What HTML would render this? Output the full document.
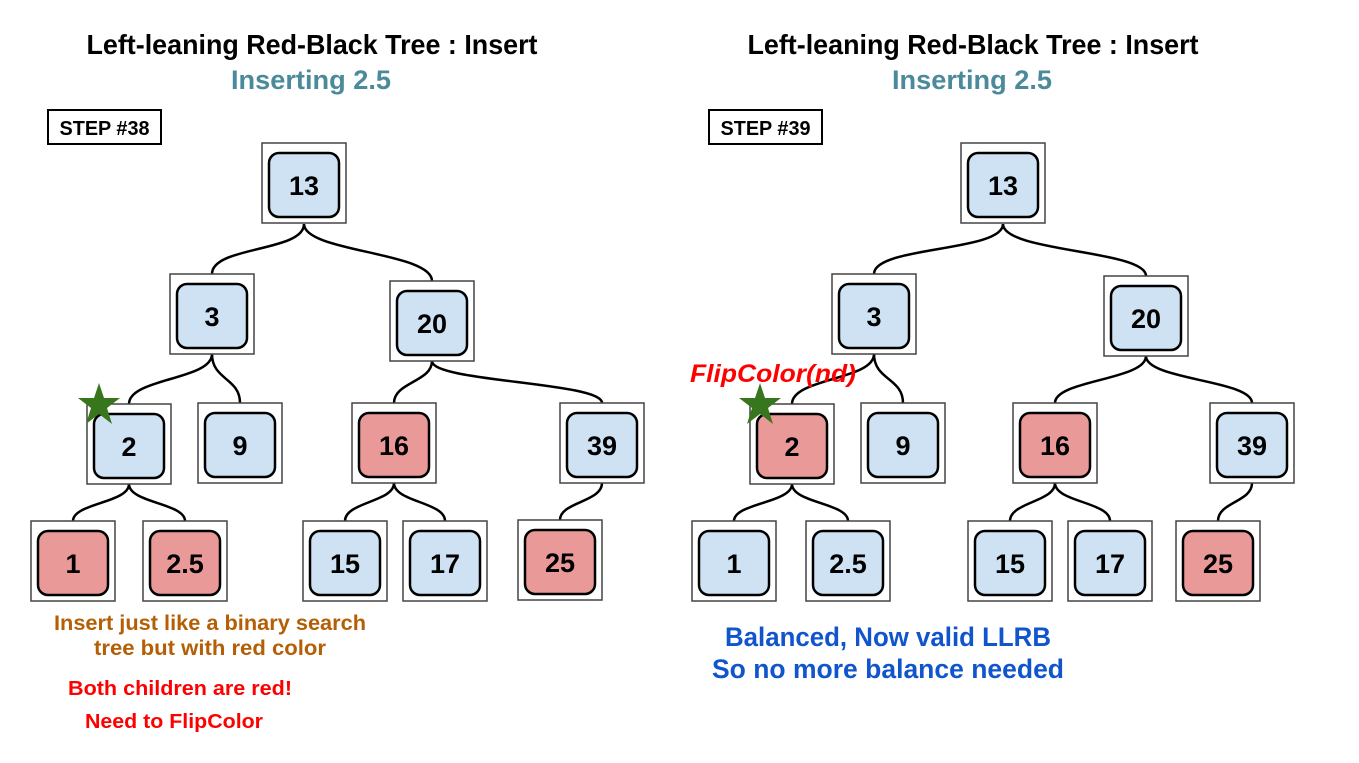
<!DOCTYPE html>
<html><head><meta charset="utf-8"><style>
html,body{margin:0;padding:0;background:#fff;}
svg{display:block;font-family:"Liberation Sans",sans-serif;font-weight:bold;}
</style></head><body>
<svg width="1359" height="763" viewBox="0 0 1359 763" xmlns="http://www.w3.org/2000/svg">
<g text-anchor="middle">
<text x="312" y="54" font-size="28" textLength="451" lengthAdjust="spacingAndGlyphs">Left-leaning Red-Black Tree : Insert</text>
<text x="311" y="89" font-size="27" fill="#4a8a9a" textLength="160" lengthAdjust="spacingAndGlyphs">Inserting 2.5</text>
<text x="973" y="54" font-size="28" textLength="451" lengthAdjust="spacingAndGlyphs">Left-leaning Red-Black Tree : Insert</text>
<text x="972" y="89" font-size="27" fill="#4a8a9a" textLength="160" lengthAdjust="spacingAndGlyphs">Inserting 2.5</text>
</g>
<rect x="48" y="110" width="113" height="34" fill="#fff" stroke="#000" stroke-width="2"/>
<text x="104.5" y="135" font-size="20" text-anchor="middle" textLength="90" lengthAdjust="spacingAndGlyphs">STEP #38</text>
<rect x="709" y="110" width="113" height="34" fill="#fff" stroke="#000" stroke-width="2"/>
<text x="765.5" y="135" font-size="20" text-anchor="middle" textLength="90" lengthAdjust="spacingAndGlyphs">STEP #39</text>

<g fill="none" stroke="#000" stroke-width="2.5">
<path d="M304,224 C304,252 212,246 212,274"/>
<path d="M304,224 C304,252 432,252 432,281"/>
<path d="M212,354 C212,380 129,378 129,404"/>
<path d="M212,354 C212,380 240,378 240,403"/>
<path d="M432,361 C432,382 394,382 394,403"/>
<path d="M432,361 C432,382 602,382 602,403"/>
<path d="M129,484 C129,503 73,503 73,521"/>
<path d="M129,484 C129,503 185,503 185,521"/>
<path d="M394,483 C394,502 345,502 345,521"/>
<path d="M394,483 C394,502 445,502 445,521"/>
<path d="M602,483 C602,502 560,502 560,520"/>
<path d="M1003,224 C1003,252 874,246 874,274"/>
<path d="M1003,224 C1003,252 1146,250 1146,276"/>
<path d="M874,354 C874,380 792,378 792,404"/>
<path d="M874,354 C874,380 903,378 903,403"/>
<path d="M1146,356 C1146,380 1055,380 1055,403"/>
<path d="M1146,356 C1146,380 1252,380 1252,403"/>
<path d="M792,484 C792,503 734,503 734,521"/>
<path d="M792,484 C792,503 848,503 848,521"/>
<path d="M1055,483 C1055,502 1010,502 1010,521"/>
<path d="M1055,483 C1055,502 1110,502 1110,521"/>
<path d="M1252,483 C1252,502 1218,502 1218,521"/>
</g>

<g stroke-width="2.5">
<rect x="262" y="143" width="84" height="80" fill="#fff" stroke="#444" stroke-width="1.5"/><rect x="269" y="153" width="70" height="64" rx="10" fill="#cfe2f3" stroke="#000"/>
<rect x="170" y="274" width="84" height="80" fill="#fff" stroke="#444" stroke-width="1.5"/><rect x="177" y="284" width="70" height="64" rx="10" fill="#cfe2f3" stroke="#000"/>
<rect x="390" y="281" width="84" height="80" fill="#fff" stroke="#444" stroke-width="1.5"/><rect x="397" y="291" width="70" height="64" rx="10" fill="#cfe2f3" stroke="#000"/>
<rect x="87" y="404" width="84" height="80" fill="#fff" stroke="#444" stroke-width="1.5"/><rect x="94" y="414" width="70" height="64" rx="10" fill="#cfe2f3" stroke="#000"/>
<rect x="198" y="403" width="84" height="80" fill="#fff" stroke="#444" stroke-width="1.5"/><rect x="205" y="413" width="70" height="64" rx="10" fill="#cfe2f3" stroke="#000"/>
<rect x="352" y="403" width="84" height="80" fill="#fff" stroke="#444" stroke-width="1.5"/><rect x="359" y="413" width="70" height="64" rx="10" fill="#ea9999" stroke="#000"/>
<rect x="560" y="403" width="84" height="80" fill="#fff" stroke="#444" stroke-width="1.5"/><rect x="567" y="413" width="70" height="64" rx="10" fill="#cfe2f3" stroke="#000"/>
<rect x="31" y="521" width="84" height="80" fill="#fff" stroke="#444" stroke-width="1.5"/><rect x="38" y="531" width="70" height="64" rx="10" fill="#ea9999" stroke="#000"/>
<rect x="143" y="521" width="84" height="80" fill="#fff" stroke="#444" stroke-width="1.5"/><rect x="150" y="531" width="70" height="64" rx="10" fill="#ea9999" stroke="#000"/>
<rect x="303" y="521" width="84" height="80" fill="#fff" stroke="#444" stroke-width="1.5"/><rect x="310" y="531" width="70" height="64" rx="10" fill="#cfe2f3" stroke="#000"/>
<rect x="403" y="521" width="84" height="80" fill="#fff" stroke="#444" stroke-width="1.5"/><rect x="410" y="531" width="70" height="64" rx="10" fill="#cfe2f3" stroke="#000"/>
<rect x="518" y="520" width="84" height="80" fill="#fff" stroke="#444" stroke-width="1.5"/><rect x="525" y="530" width="70" height="64" rx="10" fill="#ea9999" stroke="#000"/>
<rect x="961" y="143" width="84" height="80" fill="#fff" stroke="#444" stroke-width="1.5"/><rect x="968" y="153" width="70" height="64" rx="10" fill="#cfe2f3" stroke="#000"/>
<rect x="832" y="274" width="84" height="80" fill="#fff" stroke="#444" stroke-width="1.5"/><rect x="839" y="284" width="70" height="64" rx="10" fill="#cfe2f3" stroke="#000"/>
<rect x="1104" y="276" width="84" height="80" fill="#fff" stroke="#444" stroke-width="1.5"/><rect x="1111" y="286" width="70" height="64" rx="10" fill="#cfe2f3" stroke="#000"/>
<rect x="750" y="404" width="84" height="80" fill="#fff" stroke="#444" stroke-width="1.5"/><rect x="757" y="414" width="70" height="64" rx="10" fill="#ea9999" stroke="#000"/>
<rect x="861" y="403" width="84" height="80" fill="#fff" stroke="#444" stroke-width="1.5"/><rect x="868" y="413" width="70" height="64" rx="10" fill="#cfe2f3" stroke="#000"/>
<rect x="1013" y="403" width="84" height="80" fill="#fff" stroke="#444" stroke-width="1.5"/><rect x="1020" y="413" width="70" height="64" rx="10" fill="#ea9999" stroke="#000"/>
<rect x="1210" y="403" width="84" height="80" fill="#fff" stroke="#444" stroke-width="1.5"/><rect x="1217" y="413" width="70" height="64" rx="10" fill="#cfe2f3" stroke="#000"/>
<rect x="692" y="521" width="84" height="80" fill="#fff" stroke="#444" stroke-width="1.5"/><rect x="699" y="531" width="70" height="64" rx="10" fill="#cfe2f3" stroke="#000"/>
<rect x="806" y="521" width="84" height="80" fill="#fff" stroke="#444" stroke-width="1.5"/><rect x="813" y="531" width="70" height="64" rx="10" fill="#cfe2f3" stroke="#000"/>
<rect x="968" y="521" width="84" height="80" fill="#fff" stroke="#444" stroke-width="1.5"/><rect x="975" y="531" width="70" height="64" rx="10" fill="#cfe2f3" stroke="#000"/>
<rect x="1068" y="521" width="84" height="80" fill="#fff" stroke="#444" stroke-width="1.5"/><rect x="1075" y="531" width="70" height="64" rx="10" fill="#cfe2f3" stroke="#000"/>
<rect x="1176" y="521" width="84" height="80" fill="#fff" stroke="#444" stroke-width="1.5"/><rect x="1183" y="531" width="70" height="64" rx="10" fill="#ea9999" stroke="#000"/>
</g>
<g font-size="27" text-anchor="middle">
<text x="304" y="195">13</text><text x="212" y="326">3</text><text x="432" y="333">20</text>
<text x="129" y="456">2</text><text x="240" y="455">9</text><text x="394" y="455">16</text><text x="602" y="455">39</text>
<text x="73" y="573">1</text><text x="185" y="573">2.5</text><text x="345" y="573">15</text><text x="445" y="573">17</text><text x="560" y="572">25</text>
<text x="1003" y="195">13</text><text x="874" y="326">3</text><text x="1146" y="328">20</text>
<text x="792" y="456">2</text><text x="903" y="455">9</text><text x="1055" y="455">16</text><text x="1252" y="455">39</text>
<text x="734" y="573">1</text><text x="848" y="573">2.5</text><text x="1010" y="573">15</text><text x="1110" y="573">17</text><text x="1218" y="573">25</text>
</g>

<polygon fill="#38761d" transform="translate(99,405)" points="0,-22 5,-7 21,-7 8,3 13,19 0,9 -13,19 -8,3 -21,-7 -5,-7"/>
<polygon fill="#38761d" transform="translate(760,405)" points="0,-22 5,-7 21,-7 8,3 13,19 0,9 -13,19 -8,3 -21,-7 -5,-7"/>

<text x="690" y="382" font-size="25" font-style="italic" fill="#ff0000" textLength="166" lengthAdjust="spacingAndGlyphs">FlipColor(nd)</text>

<g text-anchor="middle">
<text x="210" y="630" font-size="21" fill="#b45f06" textLength="312" lengthAdjust="spacingAndGlyphs">Insert just like a binary search</text>
<text x="210" y="655" font-size="21" fill="#b45f06" textLength="232" lengthAdjust="spacingAndGlyphs">tree but with red color</text>
<text x="180" y="695" font-size="20" fill="#ff0000" textLength="224" lengthAdjust="spacingAndGlyphs">Both children are red!</text>
<text x="174" y="728" font-size="20" fill="#ff0000" textLength="178" lengthAdjust="spacingAndGlyphs">Need to FlipColor</text>
<text x="888" y="646" font-size="27" fill="#1155cc" textLength="326" lengthAdjust="spacingAndGlyphs">Balanced, Now valid LLRB</text>
<text x="888" y="678" font-size="27" fill="#1155cc" textLength="352" lengthAdjust="spacingAndGlyphs">So no more balance needed</text>
</g>
</svg>
</body></html>
